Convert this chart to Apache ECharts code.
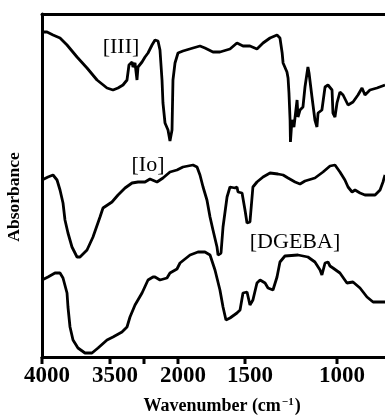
<!DOCTYPE html>
<html>
<head>
<meta charset="utf-8">
<script src="https://cdn.jsdelivr.net/npm/echarts@6/dist/echarts.min.js"></script>
<style>
  html, body { margin: 0; padding: 0; background: #fff; }
  #chart { width: 385px; height: 417px; }
</style>
</head>
<body>
<div id="chart"></div>
<script>
// tick wavenumbers, where they sit on the (broken) axis, and the printed text
var tickWn = [4000, 3500, 3000, 2500, 2000, 1500, 1000];
var tickPos = [0, 34, 68, 102, 136, 203, 295];
var tickText = ['4000', '', '3500', '', '2000', '1500', '1000'];
var axisEnd = 343;

// [wavenumber, absorbance a.u.]
var specIII = [[4000,325],[3926,325],[3838,322],[3735,319],[3632,312],[3485,300],[3338,289],[3191,277],
  [3044,269],[2956,267],[2882,269],[2809,272],[2750,277],[2721,292],[2676,295],[2662,290],[2632,294],
  [2603,277],[2588,290],[2529,295],[2485,300],[2441,304],[2412,302],[2382,312],[2338,317],[2294,316],
  [2265,307],[2235,277],[2221,254],[2191,234],[2147,227],[2118,216],[2103,214],[2088,227],[2074,277],
  [2044,294],[2000,304],[1963,306],[1888,309],[1836,311],[1799,309],[1739,305],[1687,305],[1612,308],
  [1560,314],[1515,311],[1473,311],[1435,308],[1402,314],[1364,319],[1326,322],[1310,319],[1298,304],
  [1293,294],[1272,285],[1266,279],[1261,264],[1255,237],[1253,215],[1245,237],[1234,230],[1217,257],
  [1212,240],[1201,247],[1185,250],[1174,270],[1158,290],[1152,284],[1136,260],[1120,237],[1109,230],
  [1103,244],[1082,247],[1065,270],[1049,272],[1027,267],[1022,244],[1011,240],[1000,254],[984,265],
  [967,262],[940,252],[913,255],[886,262],[864,269],[848,262],[821,267],[783,269],[739,272]];

var specIo = [[4000,177],[3912,180],[3838,182],[3779,177],[3735,167],[3691,154],[3662,137],[3618,124],
  [3559,110],[3485,100],[3441,100],[3338,107],[3250,120],[3147,140],[3103,149],[2971,155],[2882,162],
  [2779,169],[2676,174],[2588,175],[2485,175],[2412,178],[2309,175],[2221,179],[2118,185],[2015,187],
  [1963,190],[1888,192],[1858,190],[1836,182],[1813,170],[1784,157],[1761,140],[1739,127],[1709,110],
  [1701,102],[1679,104],[1664,130],[1634,160],[1612,170],[1575,169],[1560,170],[1552,165],[1522,164],
  [1500,147],[1489,134],[1473,135],[1457,170],[1435,175],[1402,180],[1364,184],[1321,183],[1293,182],
  [1266,179],[1228,175],[1201,173],[1174,176],[1120,179],[1076,185],[1038,191],[1011,192],[984,185],
  [957,177],[940,170],[918,165],[902,167],[875,164],[848,162],[793,162],[766,167],[750,175],[739,182]];

var specDGEBA = [[4000,77],[3912,80],[3809,84],[3735,84],[3691,79],[3632,64],[3618,50],[3588,30],
  [3544,17],[3471,9],[3368,4],[3265,4],[3176,9],[3044,17],[2956,20],[2824,25],[2750,30],[2706,40],
  [2632,52],[2529,64],[2441,77],[2368,80],[2338,80],[2265,77],[2162,79],[2118,84],[2015,88],[1985,94],
  [1910,102],[1851,105],[1799,105],[1761,102],[1724,87],[1687,67],[1664,50],[1642,37],[1612,39],
  [1560,44],[1537,47],[1515,64],[1489,65],[1473,52],[1457,57],[1435,74],[1418,77],[1391,74],[1375,69],
  [1348,67],[1326,80],[1310,95],[1283,101],[1212,102],[1158,100],[1120,95],[1092,87],[1082,82],
  [1065,94],[1049,95],[1038,91],[1022,89],[984,84],[946,74],[913,75],[875,69],[837,60],[804,55],[739,55]];

function toPos(wn) {
  var n = tickWn.length;
  for (var i = 0; i < n - 1; i++) {
    if (wn <= tickWn[i] && wn >= tickWn[i + 1]) {
      return tickPos[i] + (tickWn[i] - wn) / (tickWn[i] - tickWn[i + 1]) * (tickPos[i + 1] - tickPos[i]);
    }
  }
  // past the last tick: keep the last segment's scale
  var k = (tickPos[n - 1] - tickPos[n - 2]) / (tickWn[n - 2] - tickWn[n - 1]);
  return tickPos[n - 1] + (tickWn[n - 1] - wn) * k;
}

function mkSeries(name, spec) {
  return {
    name: name,
    type: 'line',
    showSymbol: false,
    silent: true,
    lineStyle: { color: '#000', width: 2.8 },
    data: spec.map(function (p) { return [toPos(p[0]), p[1]]; })
  };
}

var serif = '"Liberation Serif", "Times New Roman", serif';
var myChart = echarts.init(document.getElementById('chart'), null, { renderer: 'canvas' });
myChart.setOption({
  animation: false,
  backgroundColor: '#fff',
  grid: { left: 42, top: 14, right: 0, bottom: 60 },
  xAxis: [{
    type: 'value',
    min: 0,
    max: axisEnd,
    axisLine: { lineStyle: { color: '#000', width: 3 } },
    axisTick: { show: false },
    axisLabel: {
      customValues: tickPos,
      showMinLabel: true,
      showMaxLabel: true,
      hideOverlap: false,
      margin: 0,
      color: '#000',
      // the tick mark is drawn as the first line of each label
      formatter: function (v) {
        var i = tickPos.indexOf(v);
        var t = i < 0 ? '' : tickText[i];
        return '{t| }\n{n|' + (t || ' ') + '}';
      },
      rich: {
        t: { width: 3, height: 7, lineHeight: 7, fontSize: 1, backgroundColor: '#000' },
        n: { fontFamily: serif, fontWeight: 'bold', fontSize: 23, lineHeight: 24, color: '#000', padding: [0, 0, 0, 10] }
      }
    },
    splitLine: { show: false }
  }, {
    type: 'value',
    position: 'top',
    min: 0,
    max: axisEnd,
    axisLine: { lineStyle: { color: '#000', width: 3 } },
    axisTick: { show: false },
    axisLabel: { show: false },
    splitLine: { show: false }
  }],
  yAxis: {
    type: 'value',
    min: 0,
    max: 343,
    axisLine: { show: true, lineStyle: { color: '#000', width: 3 } },
    axisTick: { show: false },
    axisLabel: { show: false },
    splitLine: { show: false }
  },
  series: [
    mkSeries('[III]', specIII),
    mkSeries('[Io]', specIo),
    mkSeries('[DGEBA]', specDGEBA)
  ],
  graphic: [
    { type: 'text', x: 121, y: 47, style: { text: '[III]', font: '22px ' + serif, fill: '#000', align: 'center', verticalAlign: 'middle' } },
    { type: 'text', x: 148, y: 165, style: { text: '[Io]', font: '22px ' + serif, fill: '#000', align: 'center', verticalAlign: 'middle' } },
    { type: 'text', x: 295, y: 242, style: { text: '[DGEBA]', font: '22px ' + serif, fill: '#000', align: 'center', verticalAlign: 'middle' } },
    { type: 'text', x: 14, y: 197, rotation: Math.PI / 2,
      style: { text: 'Absorbance', font: 'bold 17.5px ' + serif, fill: '#000', align: 'center', verticalAlign: 'middle' } },
    { type: 'text', x: 222, y: 406,
      style: {
        text: '{a|Wavenumber (cm}{s|\u22121}{a|)}',
        align: 'center', verticalAlign: 'middle',
        rich: {
          a: { fontFamily: serif, fontWeight: 'bold', fontSize: 18, color: '#000' },
          s: { fontFamily: serif, fontWeight: 'bold', fontSize: 11, color: '#000', verticalAlign: 'top', padding: [0, 1, 6, 1] }
        }
      } }
  ]
});
</script>
</body>
</html>
